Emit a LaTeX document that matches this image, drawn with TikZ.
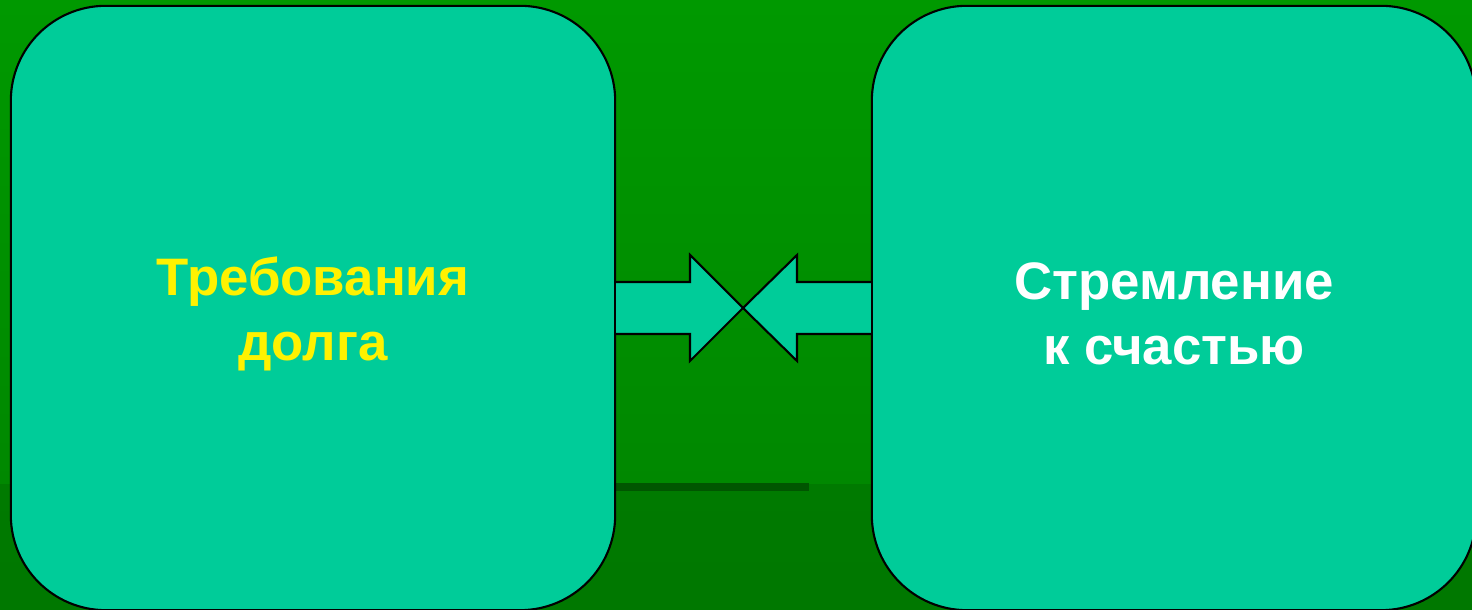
\documentclass[tikz,border=0pt]{standalone}
\usepackage{fontspec}
\setmainfont{Liberation Sans}
\usetikzlibrary{positioning}
\definecolor{teal}{RGB}{0,204,153}
\definecolor{topgreen}{RGB}{0,153,0}
\definecolor{midgreen}{RGB}{0,136,0}
\definecolor{lowgreen}{RGB}{0,122,0}
\definecolor{shadegreen}{RGB}{0,85,0}

\begin{document}
\begin{tikzpicture}[x=0.01cm,y=-0.01cm,line width=0.6pt,
                    font=\fontsize{15pt}{18.5pt}\selectfont\bfseries]
  \tikzstyle{bigbox}=[draw=black,fill=teal,rounded corners=0.95cm,
                      minimum width=6.04cm,minimum height=6.04cm,inner sep=0pt]
  \tikzstyle{boxtext}=[align=center,yshift=-0.06cm]
  \tikzstyle{blockarrow}=[draw=black,fill=teal,line join=miter]

  \useasboundingbox (0,0) rectangle (1472,610);
  \clip (0,0) rectangle (1472,610);

  % background
  \shade[top color=topgreen,bottom color=midgreen] (0,0) rectangle (1472,485);
  \shade[top color=lowgreen,bottom color=lowgreen!98!black] (0,485) rectangle (1472,610);
  \fill[shadegreen] (615,483) rectangle (809,491);

  \node[bigbox] (duty)  at (313,308)  {};
  \node[bigbox] (happy) at (1174,308) {};
  \node[boxtext,text=yellow] (dutytext)  at (duty)  {Требования\\долга};
  \node[boxtext,text=white]  (happytext) at (1174,308) {Стремление\\к счастью};

  \coordinate (meet) at (743,308);

  % two block arrows meeting in the middle
  \draw[blockarrow] (duty.east |- 0,282) -- (690,282) -- (690,255) -- (meet)
        -- (690,361) -- (690,334) -- (duty.east |- 0,334);
  \draw[blockarrow] (happy.west |- 0,282) -- (797,282) -- (797,255) -- (meet)
        -- (797,361) -- (797,334) -- (happy.west |- 0,334);
\end{tikzpicture}
\end{document}
